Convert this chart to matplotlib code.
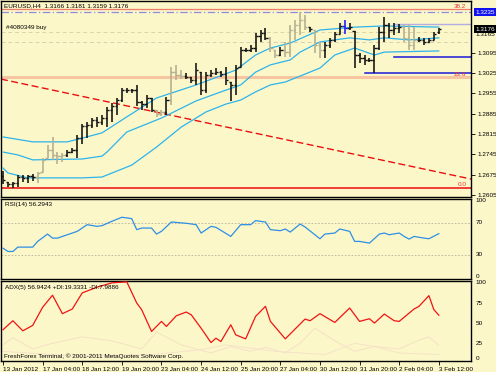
import numpy as np
import matplotlib
matplotlib.use("Agg")
import matplotlib.pyplot as plt

# ---- chart data ----
title_text = "EURUSD,H4  1.3166 1.3181 1.3159 1.3176"
order_text = "#4080349 buy"
rsi_text = "RSI(14) 56.2943"
adx_text = "ADX(5) 56.9424 +DI:19.3331 -DI:7.9886"
copyright_text = "FreshForex Terminal, \u00a9 2001-2011 MetaQuotes Software Corp."

opens = [1.2671, 1.2650, 1.2643, 1.2646, 1.2667, 1.2664, 1.2671, 1.2667, 1.2684, 1.2732,
         1.2760, 1.2743, 1.2739, 1.2743, 1.2753, 1.2760, 1.2801, 1.2843, 1.2846, 1.2863,
         1.2856, 1.2870, 1.2898, 1.2911, 1.2932, 1.2967, 1.2967, 1.2967, 1.2925, 1.2918,
         1.2939, 1.2898, 1.2884, 1.2891, 1.2932, 1.3028, 1.3018, 1.3015, 1.3011, 1.3001,
         1.3028, 1.2967, 1.3018, 1.3025, 1.3028, 1.3022, 1.2994, 1.2984, 1.3046, 1.3104,
         1.3104, 1.3111, 1.3152, 1.3163, 1.3146, 1.3104, 1.3087, 1.3104, 1.3097, 1.3173,
         1.3190, 1.3207, 1.3183, 1.3173, 1.3121, 1.3104, 1.3121, 1.3139, 1.3159, 1.3187,
         1.3180, 1.3170, 1.3087, 1.3077, 1.3070, 1.3070, 1.3111, 1.3166, 1.3190, 1.3173,
         1.3180, 1.3183, 1.3146, 1.3121, 1.3139, 1.3139, 1.3132, 1.3139, 1.3166]
highs = [1.2688, 1.2650, 1.2650, 1.2674, 1.2674, 1.2674, 1.2677, 1.2684, 1.2732, 1.2777,
         1.2805, 1.2753, 1.2750, 1.2760, 1.2767, 1.2812, 1.2850, 1.2856, 1.2870, 1.2874,
         1.2880, 1.2908, 1.2922, 1.2939, 1.2973, 1.2973, 1.2970, 1.2984, 1.2929, 1.2949,
         1.2939, 1.2898, 1.2898, 1.2942, 1.3046, 1.3053, 1.3035, 1.3025, 1.3011, 1.3059,
         1.3028, 1.3028, 1.3035, 1.3042, 1.3032, 1.3046, 1.2994, 1.3053, 1.3115, 1.3111,
         1.3121, 1.3163, 1.3173, 1.3180, 1.3149, 1.3104, 1.3115, 1.3132, 1.3190, 1.3207,
         1.3235, 1.3225, 1.3183, 1.3173, 1.3132, 1.3132, 1.3146, 1.3166, 1.3197, 1.3207,
         1.3197, 1.3170, 1.3094, 1.3087, 1.3077, 1.3121, 1.3183, 1.3218, 1.3197, 1.3197,
         1.3194, 1.3190, 1.3190, 1.3183, 1.3149, 1.3146, 1.3146, 1.3166, 1.3181]
lows = [1.2643, 1.2633, 1.2629, 1.2633, 1.2650, 1.2646, 1.2653, 1.2646, 1.2684, 1.2732,
        1.2726, 1.2712, 1.2719, 1.2736, 1.2750, 1.2732, 1.2781, 1.2801, 1.2836, 1.2839,
        1.2846, 1.2839, 1.2856, 1.2880, 1.2925, 1.2956, 1.2956, 1.2911, 1.2898, 1.2905,
        1.2891, 1.2874, 1.2877, 1.2880, 1.2915, 1.3001, 1.3004, 1.3004, 1.2991, 1.2984,
        1.2949, 1.2956, 1.3011, 1.3018, 1.3011, 1.2984, 1.2929, 1.2949, 1.3046, 1.3097,
        1.3097, 1.3097, 1.3132, 1.3139, 1.3097, 1.3077, 1.3084, 1.3080, 1.3080, 1.3139,
        1.3156, 1.3173, 1.3166, 1.3094, 1.3077, 1.3077, 1.3111, 1.3132, 1.3159, 1.3159,
        1.3173, 1.3042, 1.3059, 1.3053, 1.3063, 1.3025, 1.3104, 1.3132, 1.3146, 1.3156,
        1.3163, 1.3132, 1.3104, 1.3104, 1.3132, 1.3121, 1.3128, 1.3139, 1.3159]
closes = [1.2657, 1.2643, 1.2646, 1.2667, 1.2664, 1.2671, 1.2667, 1.2681, 1.2726, 1.2760,
          1.2743, 1.2739, 1.2743, 1.2753, 1.2760, 1.2801, 1.2843, 1.2846, 1.2863, 1.2856,
          1.2870, 1.2898, 1.2911, 1.2932, 1.2967, 1.2967, 1.2967, 1.2925, 1.2918, 1.2939,
          1.2898, 1.2884, 1.2891, 1.2932, 1.3028, 1.3018, 1.3015, 1.3011, 1.3001, 1.3035,
          1.2967, 1.3018, 1.3025, 1.3028, 1.3022, 1.3001, 1.2984, 1.3042, 1.3104, 1.3104,
          1.3111, 1.3152, 1.3163, 1.3146, 1.3111, 1.3087, 1.3104, 1.3097, 1.3173, 1.3190,
          1.3207, 1.3183, 1.3176, 1.3121, 1.3104, 1.3121, 1.3139, 1.3159, 1.3187, 1.3180,
          1.3183, 1.3087, 1.3077, 1.3070, 1.3070, 1.3111, 1.3166, 1.3190, 1.3173, 1.3180,
          1.3183, 1.3146, 1.3121, 1.3139, 1.3139, 1.3132, 1.3139, 1.3159, 1.3176]
# k = black bar, g = grey bar, b = selected (blue) bar
bar_kind = "kkkkkkkgggggg" + "k" * 18 + "ggkggg" + "k" * 17 + "ggkgggggkggkkkkb" + "k" * 11 + "gggkkkkk"

# envelope lines (bar index, price)
upper_idx = [0, 6, 13, 16, 20, 25, 31, 39, 47, 51, 54, 58, 64, 71, 77, 88]
upper_val = [1.2805, 1.2788, 1.2788, 1.2801, 1.2819, 1.2874, 1.2939, 1.2984, 1.3035, 1.3087,
             1.3111, 1.3128, 1.3173, 1.3183, 1.3187, 1.3183]
middle_idx = [0, 3, 6, 16, 20, 21, 25, 32, 39, 44, 48, 51, 54, 58, 60, 64, 70, 74, 77, 82, 88]
middle_val = [1.2753, 1.2743, 1.2726, 1.2729, 1.2739, 1.2753, 1.2822, 1.2870, 1.2929, 1.2960,
              1.2984, 1.3028, 1.3053, 1.3070, 1.3097, 1.3132, 1.3146, 1.3139, 1.3146, 1.3139, 1.3146]
lower_idx = [0, 1, 5, 16, 20, 26, 31, 36, 41, 45, 48, 51, 54, 57, 64, 67, 71, 75, 77, 88]
lower_val = [1.2698, 1.2681, 1.2664, 1.2664, 1.2667, 1.2708, 1.2770, 1.2839, 1.2891, 1.2918,
             1.2932, 1.2960, 1.2984, 1.2994, 1.3042, 1.3087, 1.3111, 1.3087, 1.3097, 1.3101]

# drawn objects
trend_idx = [-0.4, 94.5]
trend_val = [1.3004, 1.2660]
fib_names = ["38.2", "23.6", "0.0"]
fib_prices = [1.3245, 1.3010, 1.2629]
high_line = 1.3235
order_price = 1.3165
faint_line = 1.3132
blue_lines = [(79, 1.3080), (73, 1.3025)]
lilac_line = (79, 1.3194)
last_price = 1.3176

price_ticks = [1.3095, 1.3025, 1.2955, 1.2885, 1.2815, 1.2745, 1.2675, 1.2605]

rsi_idx = [0, 1, 2, 3, 6, 7, 9, 10, 11, 13, 15, 17, 19, 20, 22, 24, 26, 27, 28, 30, 31, 32,
           34, 37, 39, 40, 42, 43, 46, 48, 50, 51, 53, 54, 56, 57, 58, 60, 61, 64, 65, 67,
           68, 70, 71, 72, 74, 76, 77, 78, 80, 81, 82, 83, 85, 86, 88]
rsi_val = [38.3, 34.2, 34.2, 39.6, 39.6, 46.7, 55.8, 50.8, 50.8, 55.0, 59.2, 67.5, 65.4, 66.3,
           71.7, 76.7, 75.0, 61.3, 63.3, 63.3, 55.8, 59.2, 70.8, 69.2, 67.5, 57.1, 65.4, 64.2,
           52.9, 67.5, 67.5, 72.5, 70.8, 61.3, 60.0, 62.1, 58.3, 68.3, 64.6, 50.0, 55.8, 57.1,
           62.1, 59.2, 46.7, 46.7, 44.6, 55.8, 57.1, 55.0, 57.1, 52.9, 49.6, 52.9, 50.8, 50.0, 56.3]

adx_idx = [0, 2, 4, 6, 8, 10, 12, 14, 16, 19, 22, 25, 27, 28, 30, 32, 33, 35, 37, 38, 40,
           42, 43, 44, 46, 47, 49, 51, 53, 54, 57, 61, 62, 64, 67, 70, 72, 74, 75, 77, 79,
           80, 83, 84, 86, 87, 88]
adx_val = [38.8, 50.0, 37.5, 44.2, 66.7, 81.7, 58.8, 64.6, 84.6, 91.7, 97.1, 98.3, 72.1, 63.8,
           36.7, 49.2, 42.9, 56.2, 60.8, 57.5, 40.8, 22.9, 28.3, 24.2, 45.0, 32.5, 27.5, 55.4,
           67.9, 49.2, 27.5, 52.1, 50.0, 58.8, 47.9, 65.8, 49.2, 52.5, 47.1, 58.3, 50.0, 49.2,
           64.6, 67.9, 81.2, 63.8, 56.9]
pdi_idx = [0, 2, 6, 10, 16, 22, 28, 31, 36, 42, 46, 50, 53, 57, 60, 63, 67, 71, 75, 80, 84, 86, 88]
pdi_val = [20, 29, 15, 22, 30, 25, 15, 36, 20, 10, 18, 12, 17, 10, 22, 41, 25, 12, 18, 15, 26, 30, 19.3]
mdi_idx = [0, 5, 15, 30, 40, 45, 55, 65, 71, 75, 80, 88]
mdi_val = [12, 10, 6, 8, 14, 20, 12, 8, 22, 18, 10, 8.0]

date_pos = [0, 8, 16, 24, 32, 40, 48, 56, 64, 72, 80, 88]
date_labels = ["13 Jan 2012", "17 Jan 04:00", "18 Jan 12:00", "19 Jan 20:00", "23 Jan 04:00",
               "24 Jan 12:00", "25 Jan 20:00", "27 Jan 04:00", "30 Jan 12:00", "31 Jan 20:00",
               "2 Feb 04:00", "3 Feb 12:00"]

# ---- style ----
plt.rcParams['font.family'] = ['Liberation Sans', 'DejaVu Sans']
BG = '#fcf7c9'
FS = 4.6
W, H = 496, 372
XL = (-0.4, 94.5)

fig = plt.figure(figsize=(W / 100, H / 100), dpi=100, facecolor=BG)


def box(top, bottom):
    return [1 / W, 1 - bottom / H, 470 / W, (bottom - top) / H]


ax = fig.add_axes(box(1, 197))
ax_rsi = fig.add_axes(box(198.5, 279))
ax_adx = fig.add_axes(box(280.5, 361))

for a in (ax, ax_rsi, ax_adx):
    a.set_facecolor(BG)
    a.set_xlim(*XL)
    for s in a.spines.values():
        s.set_linewidth(1.0)
        s.set_color('black')
    a.tick_params(axis='x', bottom=False, labelbottom=False)
    a.tick_params(axis='y', left=False, labelleft=False, right=False, labelright=False)

# ---- main price panel ----
ax.set_ylim(1.25982, 1.32729)

for name, p in zip(fib_names, fib_prices):
    if name == "23.6":
        ax.axhline(p, color='#f5c6a0', lw=2.2, zorder=1)
    elif name == "0.0":
        ax.axhline(p, color='#ee1c1c', lw=1.2, zorder=1)
    else:
        ax.axhline(p, color='#ef7c6c', lw=0.9, zorder=1)
    ax.text(93.6, p + 0.0002, name, color='#e03a3a', fontsize=FS, ha='right', va='bottom')

ax.axhline(high_line, color='#8c8ce0', lw=0.9, ls=(0, (6, 2, 1, 2)), zorder=1)
ax.axhline(order_price, color='#dcd4a4', lw=0.7, ls=(0, (4, 3)), zorder=1)
ax.axhline(faint_line, color='#d6d0b0', lw=0.7, ls=(0, (4, 3)), zorder=1)
for i0, p in blue_lines:
    ax.plot([i0, XL[1]], [p, p], color='#1a1ad8', lw=1.1, zorder=2)
ax.plot([lilac_line[0], XL[1]], [lilac_line[1]] * 2, color='#b4aee0', lw=1.0, zorder=2)

ax.plot(trend_idx, trend_val, color='#e81010', lw=1.0, ls=(0, (5, 2.5)), zorder=2)

band_col = '#2db4ec'
ax.plot(upper_idx, upper_val, color=band_col, lw=0.9, zorder=3)
ax.plot(middle_idx, middle_val, color=band_col, lw=0.9, zorder=3)
ax.plot(lower_idx, lower_val, color=band_col, lw=0.9, zorder=3)

kind_col = {'k': '#111111', 'g': '#b3af90', 'b': '#1a1aff'}
x = np.arange(len(closes))
cols = [kind_col[k] for k in bar_kind]
ax.vlines(x, lows, highs, colors=cols, lw=1.15, zorder=4)
ax.hlines(opens, x - 0.45, x, colors=cols, lw=1.0, zorder=4)
ax.hlines(closes, x, x + 0.45, colors=cols, lw=1.0, zorder=4)

ax.set_yticks(price_ticks)
ax.set_yticklabels(["%.4f" % v for v in price_ticks])
ax.tick_params(axis='y', right=True, labelright=True, length=3, width=0.6, pad=1.5,
               labelsize=FS)

ytr = ax.get_yaxis_transform()
# the order price label sits mostly hidden under the last-price box
ax.text(1.0095, order_price, "%.4f" % order_price, transform=ytr, fontsize=FS,
        va='top', ha='left', clip_on=False)
ax.text(1.0095, last_price, "%.4f" % last_price, transform=ytr, fontsize=FS, color='white',
        va='center', ha='left', clip_on=False,
        bbox=dict(boxstyle='square,pad=0.2', fc='black', ec='none'))
ax.text(1.0095, high_line, "%.4f" % high_line, transform=ytr, fontsize=FS, color='white',
        va='center', ha='left', clip_on=False,
        bbox=dict(boxstyle='square,pad=0.2', fc='#1212f0', ec='none'))

# ---- RSI panel ----
ax_rsi.set_ylim(0, 100)
for lv in (30, 70):
    ax_rsi.axhline(lv, color='#b8b0a0', lw=0.6, ls=(0, (2, 2)), zorder=1)
ax_rsi.plot(rsi_idx, rsi_val, color='#2e8fe6', lw=0.9, zorder=3)
rtr = ax_rsi.get_yaxis_transform()
for lv, va in ((100, 'top'), (70, 'center'), (30, 'center'), (0, 'bottom')):
    ax_rsi.text(1.0095, lv, str(lv), transform=rtr, fontsize=FS, va=va, ha='left', clip_on=False)

# ---- ADX panel ----
ax_adx.set_ylim(0, 100)
ax_adx.plot(pdi_idx, pdi_val, color='#f6e0c6', lw=0.7, zorder=2)
ax_adx.plot(mdi_idx, mdi_val, color='#f6e2ca', lw=0.7, zorder=2)
ax_adx.plot(adx_idx, adx_val, color='#f01414', lw=0.9, zorder=3)
atr = ax_adx.get_yaxis_transform()
for lv in (100, 75, 50, 25, 0):
    ax_adx.text(1.0095, lv, str(lv), transform=atr, fontsize=FS,
                va='bottom' if lv == 0 else 'top', ha='left', clip_on=False)

ax_adx.set_xticks(date_pos)
ax_adx.set_xticklabels(date_labels, ha='left')
ax_adx.tick_params(axis='x', bottom=True, labelbottom=True, length=3, width=0.6, pad=1.0,
                   labelsize=FS)

# ---- overlay texts ----
fig.text(4 / W, 1 - 6 / H, title_text, fontsize=FS, va='center', ha='left')
fig.text(6 / W, 1 - 28 / H, order_text, fontsize=FS, va='center', ha='left')
fig.text(5 / W, 1 - 205 / H, rsi_text, fontsize=FS, va='center', ha='left')
fig.text(5 / W, 1 - 287 / H, adx_text, fontsize=FS, va='center', ha='left')
fig.text(4 / W, 1 - 356 / H, copyright_text, fontsize=FS, va='center', ha='left')

fig.savefig("out.png", dpi=100, facecolor=BG)
